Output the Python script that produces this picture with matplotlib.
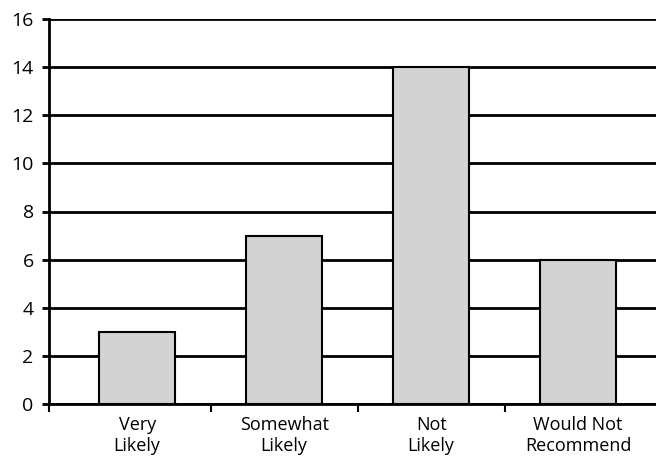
import matplotlib.pyplot as plt

categories = ["Very\nLikely", "Somewhat\nLikely", "Not\nLikely", "Would Not\nRecommend"]
counts = [3, 7, 14, 6]
yticks = [0, 2, 4, 6, 8, 10, 12, 14, 16]

plt.rcParams["font.family"] = ["Open Sans", "DejaVu Sans"]

fig = plt.figure(figsize=(6.56, 4.63), dpi=100)
ax = fig.add_axes([49 / 656, (463 - 404) / 463, 607 / 656, 385 / 463])

x = list(range(len(categories)))
ax.bar(x, counts, width=0.52, color="#d3d3d3", edgecolor="black", linewidth=1.5, zorder=3)

ax.set_ylim(0, 16)
ax.set_xlim(-0.6, 3.53)
ax.set_yticks(yticks)
ax.set_yticklabels([str(t) for t in yticks], fontsize=14)
ax.yaxis.grid(True, color="black", linewidth=2)
ax.set_axisbelow(True)

# category labels sit under the bars, ticks mark the boundaries
ax.set_xticks(x)
ax.set_xticklabels(categories, fontsize=13, linespacing=1.15)
ax.tick_params(axis="x", which="major", length=0, pad=9)
ax.set_xticks([-0.6, 0.5, 1.5, 2.5], minor=True)
ax.tick_params(axis="x", which="minor", length=6, width=1.5, direction="out")
ax.tick_params(axis="y", length=5, width=2, pad=6)

for side in ["top", "right"]:
    ax.spines[side].set_visible(False)
for side in ["left", "bottom"]:
    ax.spines[side].set_linewidth(2)

fig.savefig("out.png", dpi=100)
